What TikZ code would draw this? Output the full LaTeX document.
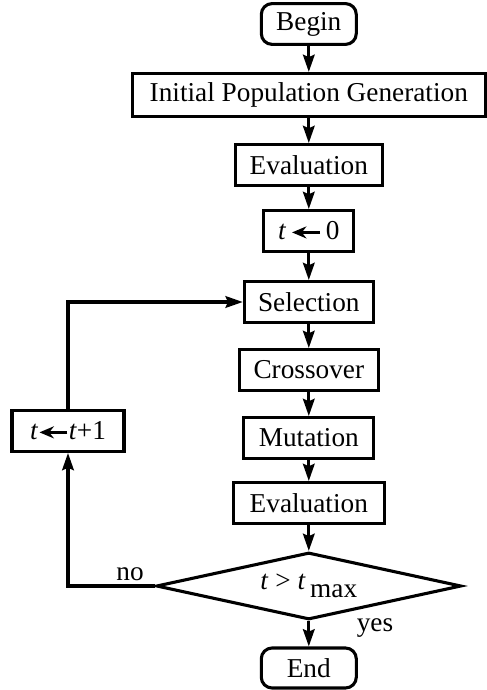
\documentclass[tikz,border=0pt]{standalone}
\usepackage{fontspec}
\setmainfont{Liberation Serif}
\usetikzlibrary{arrows.meta,shapes.geometric}

\newcommand{\getarrow}{\tikz[baseline=-0.6ex]\draw[line width=1.8pt,-{Stealth[length=3.6mm,width=3mm]}] (0.7,0) -- (0,0);}

\begin{document}
\begin{tikzpicture}[
  every node/.style={font=\fontsize{19.4}{23}\selectfont},
  box/.style={draw,line width=2.2pt,minimum height=1.02cm,inner sep=2pt},
  term/.style={box,rounded corners=0.27cm,minimum width=2.375cm},
  cond/.style={draw,line width=2.2pt,diamond,aspect=4.55,minimum width=7.625cm,minimum height=1.675cm,inner sep=0pt},
  flow/.style={line width=2.2pt,-{Stealth[length=4.3mm,width=2.9mm,inset=0.6mm]}}]

\useasboundingbox (0,0) rectangle (12.175,17.25);

\node[term] (begin) at (7.72,16.65) {Begin};
\node[box,minimum width=8.825cm,minimum height=1.075cm] (init) at (7.72,14.875) {Initial Population Generation};
\node[box,minimum width=3.675cm] (evala) at (7.72,13.125) {Evaluation};
\node[box,minimum width=2.25cm] (tzero) at (7.72,11.475) {\textit{t}\,\getarrow\,0};
\node[box,minimum width=3.225cm] (sel) at (7.72,9.7) {Selection};
\node[box,minimum width=3.475cm] (cross) at (7.72,8.0) {Crossover};
\node[box,minimum width=3.25cm] (mut) at (7.72,6.3) {Mutation};
\node[box,minimum width=3.775cm] (evalb) at (7.72,4.675) {Evaluation};
\node[cond] (test) at (7.72,2.6) {\textit{t} > \textit{t}\,\raisebox{-0.65ex}{max}};
\node[term,minimum height=1.0cm] (end) at (7.72,0.55) {End};

\node[box,minimum width=2.8cm] (tinc) at (1.7,6.475) {\textit{t}\getarrow\textit{t}+1};

% main line
\draw[flow] (begin) -- (init);
\draw[flow] (init) -- (evala);
\draw[flow] (evala) -- (tzero);
\draw[flow] (tzero) -- (sel);
\draw[flow] (sel) -- (cross);
\draw[flow] (cross) -- (mut);
\draw[flow] (mut) -- (evalb);
\draw[flow] (evalb) -- (test);
\draw[flow] (test) -- (end);

% loop back
\draw[flow] (test.west) -| (tinc.south);
\draw[flow] (tinc.north) |- (sel.west);

\node (no) at (3.25,2.9) {no};
\node (yes) at (9.375,1.55) {yes};
\end{tikzpicture}
\end{document}
